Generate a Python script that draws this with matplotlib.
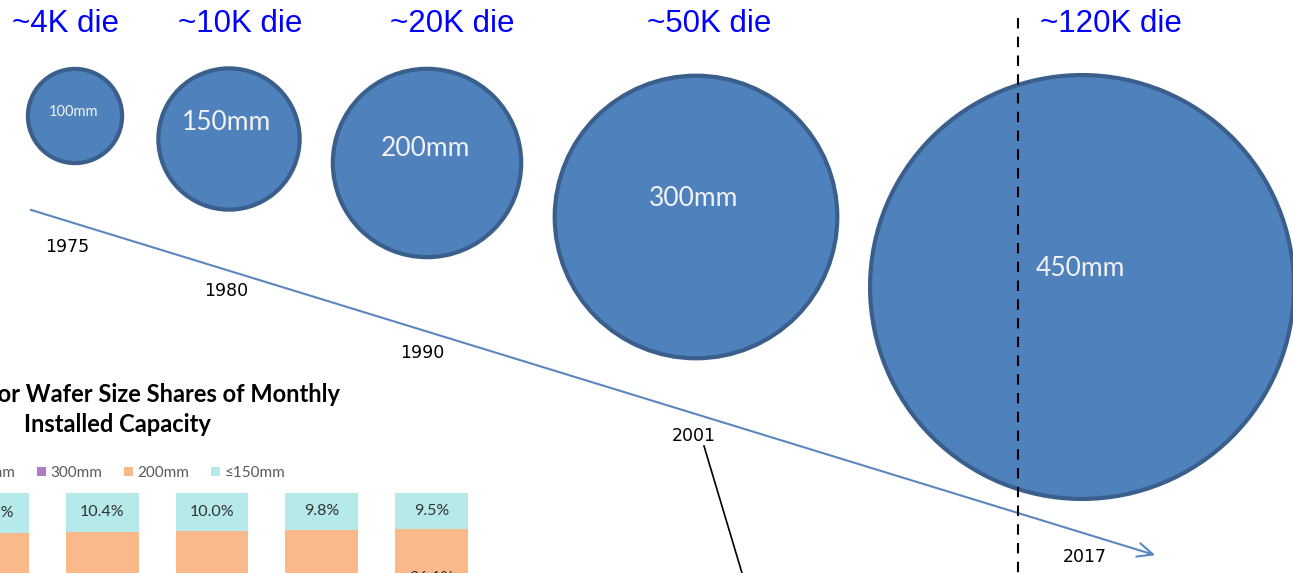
import numpy as np
import matplotlib.pyplot as plt
from matplotlib.patches import Circle

# --- data --------------------------------------------------------------------
wafer_mm = [100, 150, 200, 300, 450]
wafer_labels = ['100mm', '150mm', '200mm', '300mm', '450mm']
die_labels = ['~4K die', '~10K die', '~20K die', '~50K die', '~120K die']
years = ['1975', '1980', '1990', '2001', '2017']

# stacked shares (%) of monthly installed capacity, top segment first
share_le150 = [10.7, 10.4, 10.0, 9.8, 9.5]
share_200 = [28.0, 27.6, 27.1, 26.6, 26.1]
share_300 = [58.8, 59.5, 60.3, 61.0, 61.7]
share_450 = [2.5, 2.5, 2.6, 2.6, 2.7]

# --- layout (pixels) -----------------------------------------------------------
W, H = 1293, 573
circle_x = [75, 229, 427, 696, 1082]
circle_y = [116, 139, 163, 217, 287]
label_dy = [-4, -16, -15, -18, -19]
px_per_mm = 0.471
die_x = [65, 240, 452, 709, 1111]
year_xy = [(67, 247), (226, 291), (422, 353), (694, 436), (1085, 557)]

fig = plt.figure(figsize=(W / 100, H / 100), dpi=100)

# --- bar chart (cut off at the bottom-left) -----------------------------------
bx = fig.add_axes([-60 / W, -295 / H, 540 / W, 375 / H])
idx = np.arange(len(share_le150))
bw = 0.664
c150, c200, c300, c450 = '#b5e9ea', '#f9b98b', '#b27cc4', '#4f81bd'
bottom = np.zeros(len(idx))
for vals, col, name in [(share_le150, c150, '≤150mm'), (share_200, c200, '200mm'),
                        (share_300, c300, '300mm'), (share_450, c450, '450mm')]:
    bars = bx.bar(idx, vals, bw, bottom=bottom, color=col, edgecolor='none', label=name)
    if name in ('≤150mm', '200mm'):
        for i, b in enumerate(bars):
            bx.text(b.get_x() + b.get_width() / 2, bottom[i] + vals[i] / 2,
                    f'{vals[i]:.1f}%', ha='center', va='center', fontsize=11.5,
                    color='#333333', family=['Lato', 'DejaVu Sans'])
    bottom = bottom + np.array(vals)
bx.set_xlim(-0.477, 4.44)
bx.set_ylim(100, 0)
bx.axis('off')
bx.patch.set_alpha(0)

handles, labels = bx.get_legend_handles_labels()
order = [3, 2, 1, 0]
leg = fig.legend([handles[i] for i in order], [labels[i] for i in order],
                 loc='center left', bbox_to_anchor=(-64 / W, 1 - 473 / H), ncol=4,
                 frameon=False, handlelength=0.6, handleheight=0.6, handletextpad=0.3,
                 columnspacing=1.4, prop={'family': ['Lato', 'DejaVu Sans'], 'size': 11})
for t in leg.get_texts():
    t.set_color('#595959')

fig.text(340 / W, 1 - 394 / H, 'Semiconductor Wafer Size Shares of Monthly',
         ha='right', va='center', fontsize=17, fontweight='bold', family='Lato')
fig.text(117 / W, 1 - 425 / H, 'Installed Capacity',
         ha='center', va='center', fontsize=17, fontweight='bold', family='Lato')

# --- wafer circles, timeline ---------------------------------------------------
ax = fig.add_axes([0, 0, 1, 1])
ax.set_xlim(0, W)
ax.set_ylim(H, 0)
ax.axis('off')
ax.patch.set_alpha(0)

for d, cx, cy, dy, lab in zip(wafer_mm, circle_x, circle_y, label_dy, wafer_labels):
    ax.add_patch(Circle((cx, cy), d * px_per_mm, facecolor='#4f81bd',
                        edgecolor='#3a5f8c', lw=3, zorder=2))
    ax.text(cx - 2, cy + dy, lab, ha='center', va='center', color='#f2f2f2',
            fontsize=10.5 if d == 100 else 19, family='Lato', zorder=3)

for lab, x in zip(die_labels, die_x):
    ax.text(x, 24, lab, ha='center', va='center', color='#0000ff',
            fontsize=22.5, family='Liberation Sans')

ax.annotate('', xy=(1158, 556), xytext=(28, 209),
            arrowprops=dict(arrowstyle='->,head_length=1.1,head_width=0.5',
                            color='#5b87c0', lw=1.5))
for lab, (x, y) in zip(years, year_xy):
    ax.text(x, y, lab, ha='center', va='center', fontsize=12.5, color='black',
            family='DejaVu Sans')

ax.plot([704, 742], [446, 573], color='black', lw=1.2)
ax.plot([1018, 1018], [18, 573], color='black', lw=1.5, ls=(0, (5, 4)), zorder=4)

fig.savefig('out.png', dpi=100)
